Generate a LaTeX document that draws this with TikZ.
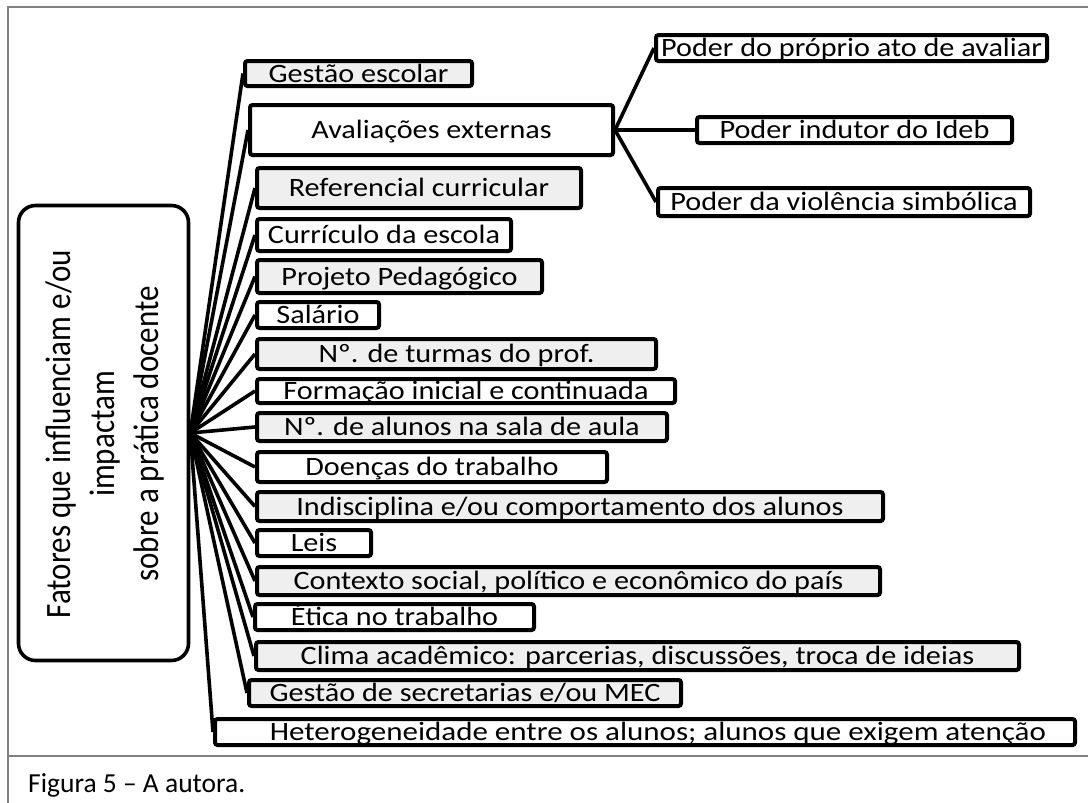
\documentclass[tikz,border=0pt]{standalone}
\usepackage{graphicx}
\usepackage{fontspec}
\setmainfont{Carlito}
\usetikzlibrary{backgrounds}
\definecolor{boxgray}{RGB}{239,239,239}
\definecolor{framegray}{RGB}{128,128,128}
\tikzset{
  bx/.style={draw=black, line width=4pt, rounded corners=2.5pt, inner sep=0pt,
    font=\fontsize{26.5}{30}\selectfont, text height=17pt, text depth=0pt},
  gbx/.style={bx, fill=boxgray},
  wbx/.style={bx, fill=white},
  link/.style={draw=black, line width=3.6pt},
  frameline/.style={draw=framegray, line width=1.6pt},
}
\newcommand{\myscale}{1.14}
\newcommand{\mybox}[7]{%
  \pgfmathsetmacro{\mybw}{#4-#3-4}%
  \pgfmathsetmacro{\mybh}{#6-#5-4}%
  \node[#2, minimum width=\mybw pt, minimum height=\mybh pt] (#1) at ({(#3+#4)/2},{(#5+#6)/2}) {\scalebox{\myscale}[1]{#7}};}
\begin{document}
\begin{tikzpicture}[x=1pt,y=-1pt]
\useasboundingbox (0,0) rectangle (1088,803);
% frame
\draw[frameline] (8,803) -- (8,7) -- (1088,7);
\draw[frameline] (8,756) -- (1088,756);
% central box
\node[draw=black, line width=3.6pt, rounded corners=17pt, fill=white, minimum width=170pt, minimum height=455pt, inner sep=0pt] (center) at (103.5,433) {};
\node[rotate=90, yscale=1.15, align=center, inner sep=0pt, font=\fontsize{31}{38.3}\selectfont] (centertext) at (105,434) {Fatores que influenciam e/ou\\impactam\\sobre a prática docente};
% boxes
\mybox{gestao}{gbx}{243}{474}{59}{88}{Gestão escolar}
\mybox{aval}{wbx}{248}{615}{103}{157}{Avaliações externas}
\mybox{ref}{gbx}{255}{583}{166}{210}{Referencial curricular}
\mybox{curr}{wbx}{255}{513}{217}{253}{Currículo da escola}
\mybox{proj}{gbx}{255}{544}{258}{295}{Projeto Pedagógico}
\mybox{sal}{wbx}{255}{381}{300}{330}{Salário}
\mybox{turmas}{gbx}{255}{658}{337}{371}{Nº. de turmas do prof.}
\mybox{form}{wbx}{255}{677}{377}{405}{Formação inicial e continuada}
\mybox{alunos}{gbx}{255}{669}{411}{443}{Nº. de alunos na sala de aula}
\mybox{doen}{wbx}{255}{609}{450}{484}{Doenças do trabalho}
\mybox{indis}{gbx}{255}{885}{490}{523}{Indisciplina e/ou comportamento dos alunos}
\mybox{leis}{wbx}{255}{373}{528}{558}{Leis}
\mybox{cont}{gbx}{255}{882}{565}{597}{Contexto social, político e econômico do país}
\mybox{etica}{wbx}{253}{536}{602}{632}{Ética no trabalho}
\mybox{clima}{gbx}{254}{1021}{640}{672}{Clima acadêmico: parcerias, discussões, troca de ideias}
\mybox{gsec}{gbx}{247}{683}{678}{708}{Gestão de secretarias e/ou MEC}
\renewcommand{\myscale}{1.17}
\mybox{het}{wbx}{213}{1077}{717}{747}{\hspace*{22pt}Heterogeneidade entre os alunos; alunos que exigem atenção}
\renewcommand{\myscale}{1.14}
\mybox{pa}{wbx}{654}{1049}{33}{63}{Poder do próprio ato de avaliar}
\mybox{pb}{wbx}{695}{1014}{115}{145}{Poder indutor do Ideb}
\mybox{pc}{wbx}{656}{1032}{186}{218}{Poder da violência simbólica}
% caption
\node[anchor=west, inner sep=0pt, font=\fontsize{27.5}{30}\selectfont, text height=18pt, text depth=0pt] (caption) at (28,783) {Figura 5 – A autora.};
% connectors
\begin{scope}[on background layer]
\fill[white] (0,0) rectangle (1088,803);
\foreach \t in {gestao,aval,ref,curr,proj,sal,turmas,form,alunos,doen,indis,leis,cont,etica,clima,gsec,het}
  \draw[link] (center.east) -- (\t.west);
\foreach \t in {pa,pb,pc}
  \draw[link] (aval.east) -- (\t.west);
\end{scope}
\end{tikzpicture}
\end{document}
